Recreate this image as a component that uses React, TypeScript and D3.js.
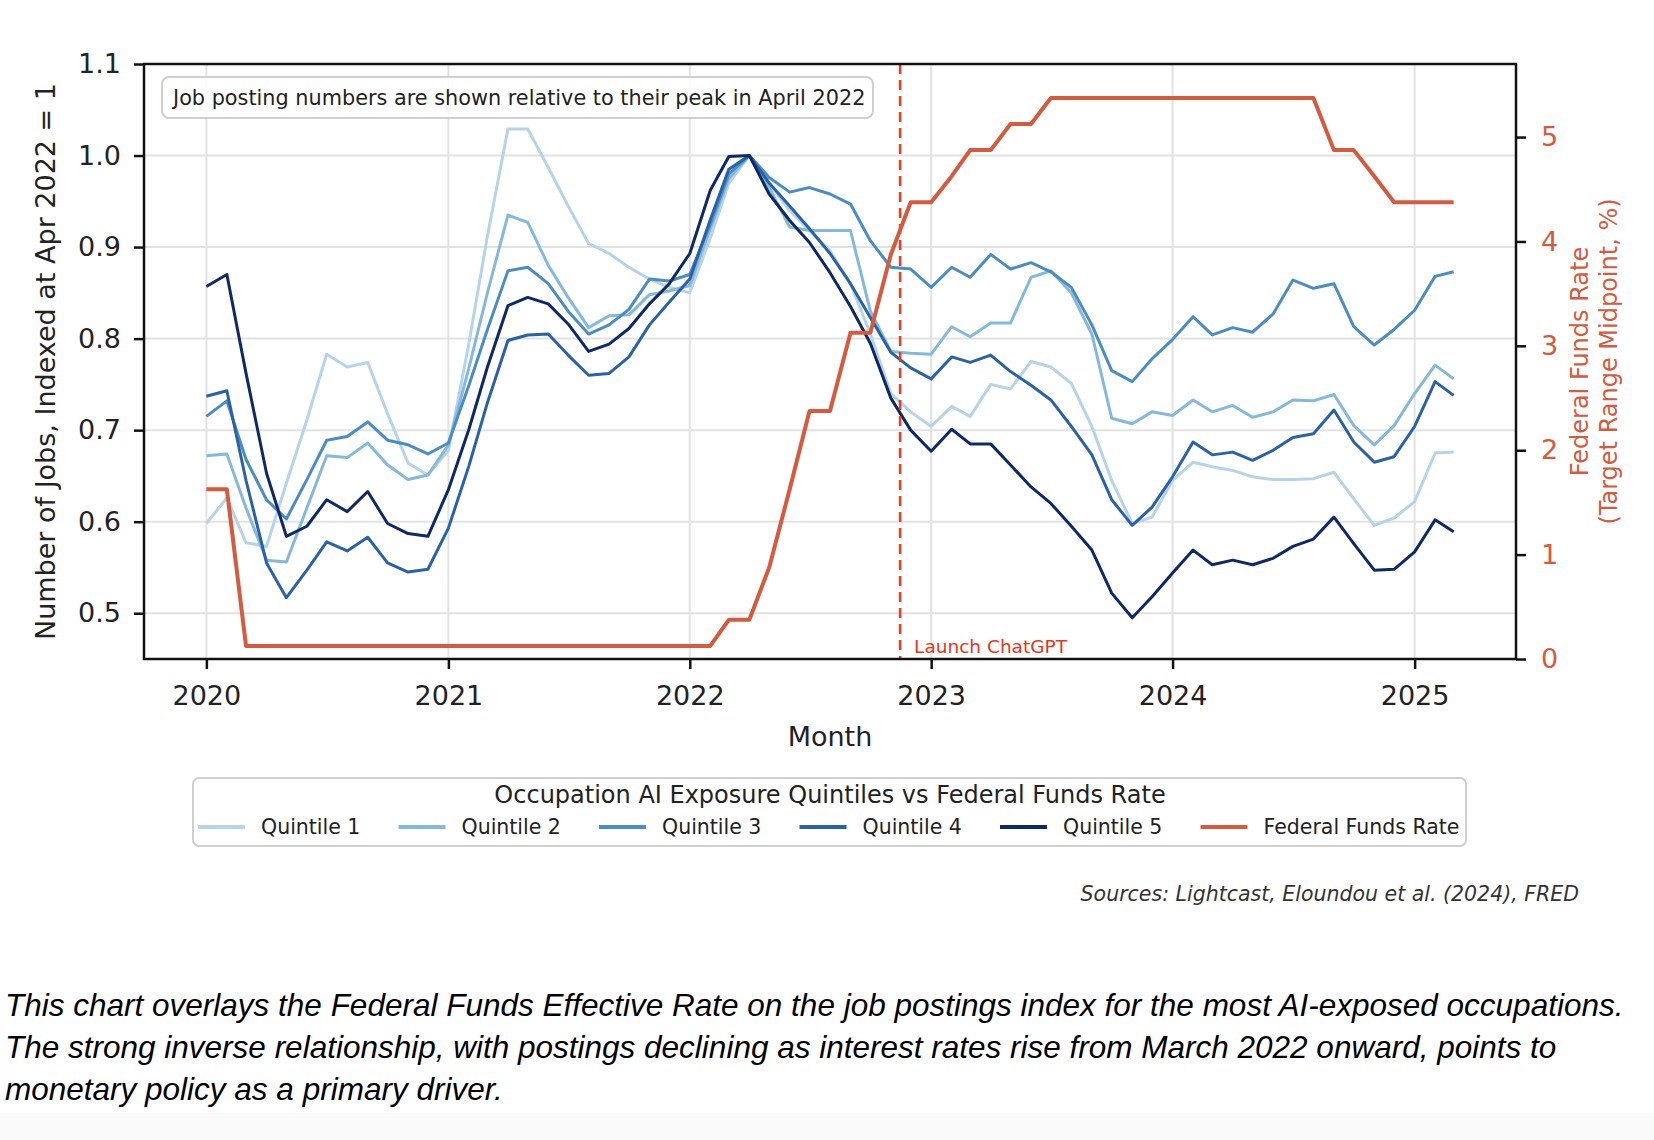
import React, { useEffect, useRef } from 'react';
import * as d3 from 'd3';

// monthly points, Jan 2020 .. Mar 2025
const months = d3.utcMonth.range(new Date(Date.UTC(2020, 0, 1)), new Date(Date.UTC(2025, 3, 1)));

const quintile1 = [
  0.598, 0.626, 0.577, 0.573, 0.642, 0.711, 0.783, 0.769, 0.774, 0.718, 0.664, 0.651,
  0.678, 0.795, 0.912, 1.029, 1.029, 0.987, 0.945, 0.904, 0.893, 0.878, 0.865, 0.856,
  0.850, 0.910, 0.970, 1.000, 0.969, 0.940, 0.918, 0.896, 0.860, 0.805, 0.740, 0.720,
  0.704, 0.726, 0.715, 0.750, 0.745, 0.775, 0.769, 0.751, 0.704, 0.645, 0.598, 0.605,
  0.645, 0.665, 0.660, 0.656, 0.649, 0.646, 0.646, 0.647, 0.654, 0.625, 0.596, 0.604,
  0.622, 0.675, 0.676,
];
const quintile2 = [
  0.672, 0.674, 0.615, 0.558, 0.556, 0.615, 0.672, 0.670, 0.686, 0.662, 0.646, 0.651,
  0.684, 0.768, 0.850, 0.935, 0.927, 0.880, 0.845, 0.812, 0.825, 0.826, 0.848, 0.852,
  0.858, 0.920, 0.975, 1.000, 0.965, 0.922, 0.918, 0.918, 0.918, 0.830, 0.786, 0.784,
  0.783, 0.813, 0.802, 0.817, 0.817, 0.867, 0.874, 0.850, 0.805, 0.713, 0.707, 0.720,
  0.716, 0.733, 0.720, 0.727, 0.714, 0.720, 0.733, 0.732, 0.739, 0.705, 0.684, 0.705,
  0.740, 0.771, 0.756,
];
const quintile3 = [
  0.715, 0.732, 0.668, 0.624, 0.603, 0.646, 0.689, 0.693, 0.709, 0.689, 0.684, 0.674,
  0.686, 0.749, 0.810, 0.874, 0.878, 0.860, 0.830, 0.805, 0.815, 0.832, 0.865, 0.863,
  0.870, 0.925, 0.980, 1.000, 0.976, 0.960, 0.965, 0.958, 0.947, 0.907, 0.878, 0.876,
  0.856, 0.878, 0.867, 0.892, 0.876, 0.883, 0.873, 0.856, 0.815, 0.765, 0.753, 0.778,
  0.799, 0.824, 0.804, 0.812, 0.807, 0.827, 0.864, 0.855, 0.860, 0.813, 0.793, 0.810,
  0.831, 0.868, 0.873,
];
const quintile4 = [
  0.737, 0.743, 0.645, 0.555, 0.517, 0.547, 0.578, 0.568, 0.583, 0.555, 0.545, 0.548,
  0.593, 0.661, 0.730, 0.798, 0.804, 0.805, 0.782, 0.760, 0.762, 0.780, 0.815, 0.840,
  0.865, 0.930, 0.985, 1.000, 0.970, 0.945, 0.920, 0.893, 0.860, 0.823, 0.785, 0.768,
  0.756, 0.780, 0.774, 0.782, 0.764, 0.749, 0.733, 0.704, 0.673, 0.624, 0.596, 0.616,
  0.649, 0.687, 0.673, 0.676, 0.667, 0.678, 0.692, 0.696, 0.722, 0.687, 0.665, 0.671,
  0.704, 0.753, 0.738,
];
const quintile5 = [
  0.857, 0.870, 0.762, 0.653, 0.584, 0.595, 0.624, 0.611, 0.633, 0.598, 0.587, 0.584,
  0.635, 0.701, 0.769, 0.836, 0.845, 0.838, 0.816, 0.786, 0.794, 0.811, 0.838, 0.860,
  0.893, 0.962, 0.999, 1.000, 0.958, 0.929, 0.905, 0.872, 0.835, 0.795, 0.735, 0.700,
  0.677, 0.701, 0.685, 0.685, 0.662, 0.638, 0.620, 0.595, 0.569, 0.522, 0.495, 0.518,
  0.544, 0.569, 0.553, 0.558, 0.553, 0.560, 0.573, 0.581, 0.605, 0.576, 0.547, 0.548,
  0.567, 0.602, 0.589,
];
const fedFundsRate = [
  1.625, 1.625, 0.125, 0.125, 0.125, 0.125, 0.125, 0.125, 0.125, 0.125, 0.125, 0.125,
  0.125, 0.125, 0.125, 0.125, 0.125, 0.125, 0.125, 0.125, 0.125, 0.125, 0.125, 0.125,
  0.125, 0.125, 0.375, 0.375, 0.875, 1.625, 2.375, 2.375, 3.125, 3.125, 3.875, 4.375,
  4.375, 4.625, 4.875, 4.875, 5.125, 5.125, 5.375, 5.375, 5.375, 5.375, 5.375, 5.375,
  5.375, 5.375, 5.375, 5.375, 5.375, 5.375, 5.375, 5.375, 4.875, 4.875, 4.625, 4.375,
  4.375, 4.375, 4.375,
];

const seriesNames = ['Quintile 1', 'Quintile 2', 'Quintile 3', 'Quintile 4', 'Quintile 5'];
const seriesColors = ['#b5d3e9', '#84b9dc', '#4a8dc4', '#2a62a8', '#0e2a66'];
const rateName = 'Federal Funds Rate';
const rateColor = '#d65a3d';

const yearTicks = [2020, 2021, 2022, 2023, 2024, 2025];
const jobTicks = [0.5, 0.6, 0.7, 0.8, 0.9, 1.0, 1.1];
const rateTicks = [0, 1, 2, 3, 4, 5];
const chatGptLaunch = new Date(Date.UTC(2022, 10, 15));

const captionLines = [
  'This chart overlays the Federal Funds Effective Rate on the job postings index for the most AI-exposed occupations.',
  'The strong inverse relationship, with postings declining as interest rates rise from March 2022 onward, points to',
  'monetary policy as a primary driver.',
];

const W = 1654;
const H = 1140;
const FONT = 'DejaVu Sans';

const App: React.FC = () => {
  const svgRef = useRef<SVGSVGElement | null>(null);

  useEffect(() => {
    const svg = d3.select(svgRef.current);
    svg.selectAll('*').remove();

    const plot = { left: 144, right: 1516, top: 64, bottom: 659 };

    const t0 = months[0].getTime();
    const t1 = months[months.length - 1].getTime();
    const pad = (t1 - t0) * 0.05;
    const x = d3
      .scaleUtc()
      .domain([new Date(t0 - pad), new Date(t1 + pad)])
      .range([plot.left, plot.right]);
    const y = d3.scaleLinear().domain([0.45, 1.1]).range([plot.bottom, plot.top]);
    const yRate = d3.scaleLinear().domain([0, 5.7]).range([plot.bottom, plot.top]);

    svg.append('rect').attr('width', W).attr('height', H).attr('fill', '#fff');
    svg.append('rect').attr('x', 0).attr('y', 1113).attr('width', W).attr('height', 27).attr('fill', '#fafafa');

    // grid
    const grid = svg.append('g');
    yearTicks.forEach((yr) => {
      const gx = x(new Date(Date.UTC(yr, 0, 1)));
      grid.append('line').attr('x1', gx).attr('x2', gx).attr('y1', plot.top).attr('y2', plot.bottom)
        .attr('stroke', '#e2e2e2').attr('stroke-width', 2);
    });
    jobTicks.forEach((v) => {
      grid.append('line').attr('x1', plot.left).attr('x2', plot.right).attr('y1', y(v)).attr('y2', y(v))
        .attr('stroke', '#e2e2e2').attr('stroke-width', 2);
    });

    const allSeries = [quintile1, quintile2, quintile3, quintile4, quintile5];
    const line = d3
      .line<number>()
      .x((_, i) => x(months[i]))
      .y((d) => y(d));

    allSeries.forEach((s, k) => {
      svg.append('path').datum(s).attr('d', line).attr('fill', 'none')
        .attr('stroke', seriesColors[k]).attr('stroke-width', 3).attr('stroke-linejoin', 'round');
    });

    // ChatGPT launch marker
    const lx = x(chatGptLaunch);
    svg.append('line').attr('x1', lx).attr('x2', lx).attr('y1', plot.top).attr('y2', plot.bottom)
      .attr('stroke', '#ee3b24').attr('stroke-width', 2.6).attr('stroke-dasharray', '10,6');
    svg.append('text').attr('x', lx + 14).attr('y', 646).attr('dominant-baseline', 'central')
      .attr('font-family', FONT).attr('font-size', 18.5).attr('fill', '#e8341c').text('Launch ChatGPT');

    // fed funds on twin axis
    const rateLine = d3
      .line<number>()
      .x((_, i) => x(months[i]))
      .y((d) => yRate(d));
    svg.append('path').datum(fedFundsRate).attr('d', rateLine).attr('fill', 'none')
      .attr('stroke', rateColor).attr('stroke-width', 4).attr('stroke-linejoin', 'round');

    // note box
    svg.append('rect').attr('x', 162).attr('y', 77).attr('width', 711).attr('height', 41)
      .attr('rx', 7).attr('fill', 'rgba(255,255,255,0.85)').attr('stroke', '#cfcfcf').attr('stroke-width', 2);
    svg.append('text').attr('x', 173).attr('y', 97.5).attr('dominant-baseline', 'central')
      .attr('font-family', FONT).attr('font-size', 20.8).attr('fill', '#222')
      .text('Job posting numbers are shown relative to their peak in April 2022');

    // spines
    svg.append('rect').attr('x', plot.left).attr('y', plot.top)
      .attr('width', plot.right - plot.left).attr('height', plot.bottom - plot.top)
      .attr('fill', 'none').attr('stroke', '#111').attr('stroke-width', 2.5);

    const styleAxis = (g: d3.Selection<SVGGElement, unknown, null, undefined>, color: string) => {
      g.select('.domain').remove();
      g.selectAll('.tick line').attr('stroke', '#111').attr('stroke-width', 2.5);
      g.selectAll('.tick text').attr('font-family', FONT).attr('font-size', 27).attr('fill', color);
    };

    const xAxis = d3
      .axisBottom(x)
      .tickValues(yearTicks.map((yr) => new Date(Date.UTC(yr, 0, 1))))
      .tickFormat((d) => d3.utcFormat('%Y')(d as Date))
      .tickSize(10)
      .tickPadding(17);
    const gx = svg.append('g').attr('transform', `translate(0,${plot.bottom})`).call(xAxis);
    styleAxis(gx, '#222');

    const yAxis = d3.axisLeft(y).tickValues(jobTicks).tickFormat(d3.format('.1f')).tickSize(10).tickPadding(13);
    const gy = svg.append('g').attr('transform', `translate(${plot.left},0)`).call(yAxis);
    styleAxis(gy, '#222');

    const rAxis = d3.axisRight(yRate).tickValues(rateTicks).tickFormat(d3.format('d')).tickSize(10).tickPadding(15);
    const gr = svg.append('g').attr('transform', `translate(${plot.right},0)`).call(rAxis);
    styleAxis(gr, rateColor);

    // axis titles
    svg.append('text').attr('x', (plot.left + plot.right) / 2).attr('y', 736)
      .attr('text-anchor', 'middle').attr('dominant-baseline', 'central')
      .attr('font-family', FONT).attr('font-size', 27).attr('fill', '#222').text('Month');
    svg.append('text').attr('transform', `translate(45,${(plot.top + plot.bottom) / 2}) rotate(-90)`)
      .attr('text-anchor', 'middle').attr('dominant-baseline', 'central')
      .attr('font-family', FONT).attr('font-size', 27).attr('fill', '#222')
      .text('Number of Jobs, Indexed at Apr 2022 = 1');
    const rTitle = svg.append('text')
      .attr('transform', `translate(1580,${(plot.top + plot.bottom) / 2}) rotate(-90)`)
      .attr('text-anchor', 'middle').attr('font-family', FONT).attr('font-size', 24).attr('fill', rateColor);
    rTitle.append('tspan').attr('x', 0).attr('dy', '0.35em').text('Federal Funds Rate');
    rTitle.append('tspan').attr('x', 0).attr('dy', '1.2em').text('(Target Range Midpoint, %)');

    // legend
    const lg = svg.append('g');
    lg.append('rect').attr('x', 193).attr('y', 778).attr('width', 1273).attr('height', 68)
      .attr('rx', 6).attr('fill', '#fff').attr('stroke', '#cfcfcf').attr('stroke-width', 2);
    lg.append('text').attr('x', 830).attr('y', 795).attr('text-anchor', 'middle').attr('dominant-baseline', 'central')
      .attr('font-family', FONT).attr('font-size', 24).attr('fill', '#222')
      .text('Occupation AI Exposure Quintiles vs Federal Funds Rate');
    const entries = [...seriesNames.map((n, i) => ({ n, c: seriesColors[i] })), { n: rateName, c: rateColor }];
    entries.forEach((e, i) => {
      const ex = 198 + i * 200.5;
      lg.append('line').attr('x1', ex).attr('x2', ex + 47).attr('y1', 827).attr('y2', 827)
        .attr('stroke', e.c).attr('stroke-width', 4);
      lg.append('text').attr('x', ex + 63).attr('y', 827).attr('dominant-baseline', 'central')
        .attr('font-family', FONT).attr('font-size', 20.5).attr('fill', '#222').text(e.n);
    });

    // source
    svg.append('text').attr('x', 1579).attr('y', 894).attr('text-anchor', 'end').attr('dominant-baseline', 'central')
      .attr('font-family', FONT).attr('font-style', 'italic').attr('font-size', 20.5).attr('fill', '#333')
      .text('Sources: Lightcast, Eloundou et al. (2024), FRED');

    // caption
    captionLines.forEach((t, i) => {
      svg.append('text').attr('x', 5).attr('y', 1005 + i * 42).attr('dominant-baseline', 'central')
        .attr('font-family', 'Liberation Sans').attr('font-style', 'italic').attr('font-size', 31.5)
        .attr('fill', '#000').text(t);
    });
  }, []);

  return (
    <svg
      ref={svgRef}
      width={W}
      height={H}
      viewBox={`0 0 ${W} ${H}`}
      style={{ position: 'absolute', left: 0, top: 0, display: 'block' }}
    />
  );
};

export default App;
